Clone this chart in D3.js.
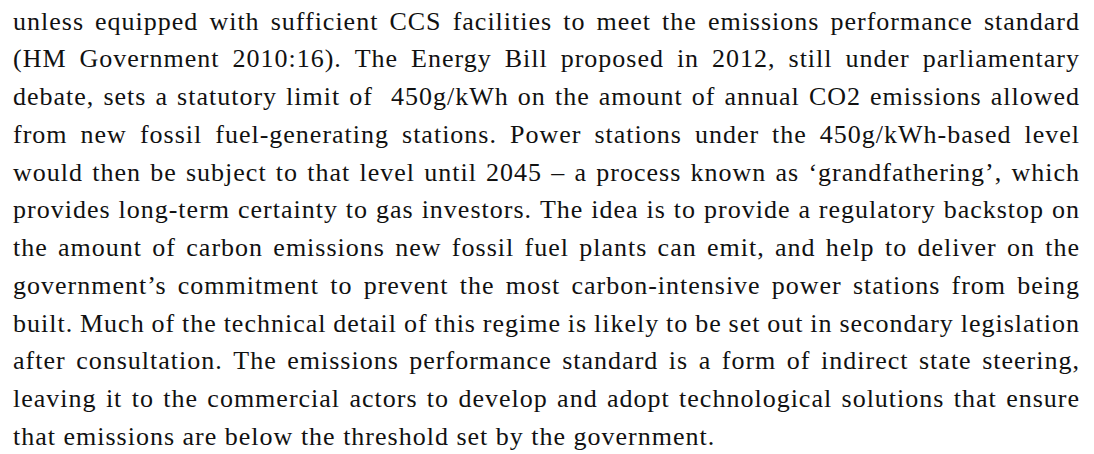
<!DOCTYPE html>
<html>
<head>
	<meta charset="utf-8">
	<title>Emissions performance standard</title>
	<script src="https://cdn.jsdelivr.net/npm/d3@7"></script>
	<style>
		body { margin: 0; background: #fff; }
		svg { display: block; }
	</style>
</head>
<body>
<script>

// the paragraph, one entry per printed line
var lines = [
	"unless equipped with sufficient CCS facilities to meet the emissions performance standard",
	"(HM Government 2010:16). The Energy Bill proposed in 2012, still under parliamentary",
	"debate, sets a statutory limit of  450g/kWh on the amount of annual CO2 emissions allowed",
	"from new fossil fuel-generating stations. Power stations under the 450g/kWh-based level",
	"would then be subject to that level until 2045 \u2013 a process known as \u2018grandfathering\u2019, which",
	"provides long-term certainty to gas investors. The idea is to provide a regulatory backstop on",
	"the amount of carbon emissions new fossil fuel plants can emit, and help to deliver on the",
	"government\u2019s commitment to prevent the most carbon-intensive power stations from being",
	"built. Much of the technical detail of this regime is likely to be set out in secondary legislation",
	"after consultation. The emissions performance standard is a form of indirect state steering,",
	"leaving it to the commercial actors to develop and adopt technological solutions that ensure",
	"that emissions are below the threshold set by the government."
];
var lineIndex = d3.range(lines.length);

var width = 1094, height = 454;
var left = 13, right = 1080;

var svg = d3.select("body").append("svg")
	.attr("width", width)
	.attr("height", height);

// baseline of each line
var y = d3.scaleLinear()
	.domain([0, lines.length - 1])
	.range([29.5, 445]);

var fontStyle = function (sel) {
	sel.attr("font-family", "'Liberation Serif', 'Times New Roman', serif")
		.attr("font-size", "26px")
		.attr("letter-spacing", "1px")
		.attr("fill", "#111");
};

// hidden text used to measure word widths
var probe = svg.append("text").call(fontStyle).attr("visibility", "hidden");
function measure(s) {
	probe.text(s);
	return probe.node().getComputedTextLength();
}
var spaceWidth = measure("a a") - measure("aa");

lineIndex.forEach(function (i) {
	// split on single spaces so a double space keeps its wider gap
	var words = lines[i].split(" ");
	var widths = words.map(function (w) { return w ? measure(w) : 0; });
	var total = d3.sum(widths);
	var last = i === lines.length - 1;
	// justify every line but the last one
	var gap = last ? spaceWidth : (right - left - total) / (words.length - 1);

	var placed = [], x = left;
	words.forEach(function (w, j) {
		if (w) placed.push({word: w, x: x});
		x += widths[j] + gap;
	});

	svg.append("text")
		.call(fontStyle)
		.attr("y", y(i))
		.selectAll("tspan")
		.data(placed)
		.enter()
		.append("tspan")
		.attr("x", function (d) { return d.x; })
		.text(function (d) { return d.word; });
});

probe.remove();

</script>
</body>
</html>
